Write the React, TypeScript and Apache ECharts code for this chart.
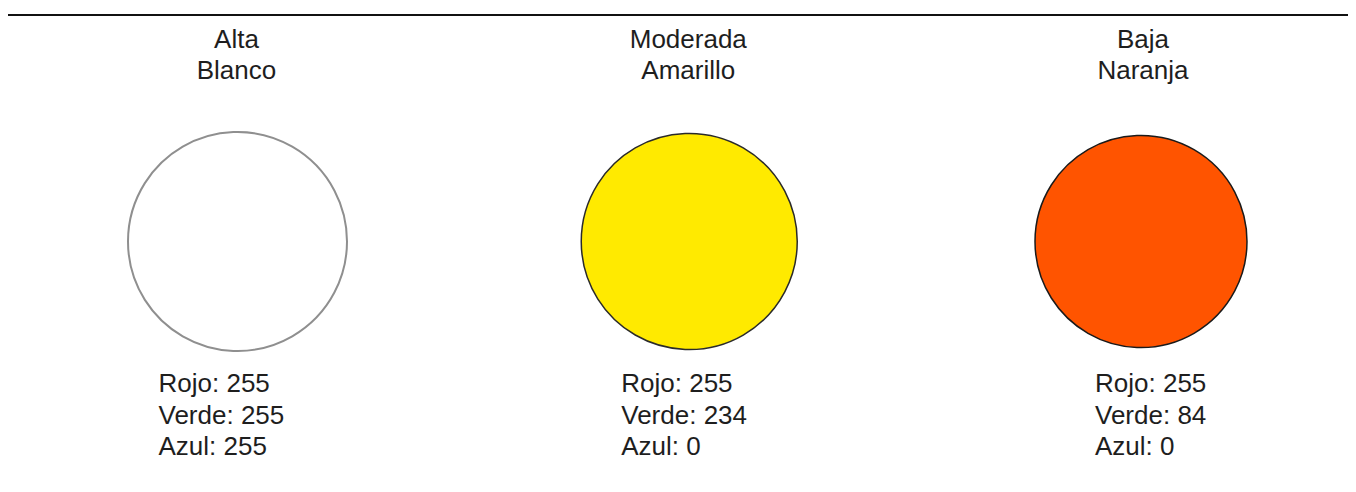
import React, { useEffect, useRef } from "react";
import * as echarts from "echarts";

// Data
const levels = ["Alta", "Moderada", "Baja"];
const colorNames = ["Blanco", "Amarillo", "Naranja"];
const rojo = [255, 255, 255];
const verde = [255, 234, 84];
const azul = [255, 0, 0];

// Styling / layout (not data)
const FONT = "'Liberation Sans', Arial, Helvetica, sans-serif";
const TEXT_COLOR = "#1e1e1e";
const circleSizes = [219, 216, 212];
const strokeColors = ["#8f8f8f", "#2a2a2a", "#1a1a1a"];
const strokeWidths = [2, 1.5, 1.5];
const titleDx = [-1, -1, 2];
const rgbDx = [-79, -68, -46];

export default function App() {
  const ref = useRef<HTMLDivElement>(null);

  useEffect(() => {
    if (!ref.current) return;
    const chart = echarts.init(ref.current, undefined, { renderer: "svg" });

    const textStyle = {
      color: TEXT_COLOR,
      fontFamily: FONT,
      fontSize: 26,
      textBorderWidth: 0,
      opacity: 1,
    };

    const circleData = levels.map((lvl, i) => ({
      value: [i, 0],
      name: lvl,
      symbolSize: circleSizes[i],
      itemStyle: {
        color: `rgb(${rojo[i]},${verde[i]},${azul[i]})`,
        borderColor: strokeColors[i],
        borderWidth: strokeWidths[i],
        opacity: 1,
      },
      label: {
        ...textStyle,
        show: true,
        position: "inside",
        offset: [titleDx[i], -218.5],
        align: "center",
        verticalAlign: "top",
        lineHeight: 31.5,
        formatter: `${lvl}\n${colorNames[i]}`,
      },
    }));

    const rgbData = levels.map((lvl, i) => ({
      value: [i, 0],
      name: lvl,
      label: {
        ...textStyle,
        show: true,
        position: "inside",
        offset: [rgbDx[i], 126],
        align: "left",
        verticalAlign: "top",
        lineHeight: 31.5,
        formatter: `Rojo: ${rojo[i]}\nVerde: ${verde[i]}\nAzul: ${azul[i]}`,
      },
    }));

    chart.setOption({
      animation: false,
      backgroundColor: "#ffffff",
      grid: { left: 229.5, right: 207, top: 133.5, height: 200 },
      xAxis: { type: "value", min: 0, max: 2, show: false },
      yAxis: { type: "value", min: -1, max: 1, show: false },
      graphic: [
        {
          type: "line",
          shape: { x1: 0, y1: 7, x2: 1340, y2: 7 },
          style: { stroke: "#111111", lineWidth: 2.2 },
        },
      ],
      series: [
        {
          type: "scatter",
          symbol: "circle",
          data: circleData,
          z: 2,
          label: { ...textStyle },
          emphasis: { disabled: true },
        },
        {
          type: "scatter",
          symbol: "circle",
          symbolSize: 1,
          itemStyle: { color: "#ffffff", opacity: 0 },
          data: rgbData,
          z: 3,
          label: { ...textStyle },
          emphasis: { disabled: true },
        },
      ],
    });

    return () => chart.dispose();
  }, []);

  return <div ref={ref} style={{ width: 1340, height: 476 }} />;
}
